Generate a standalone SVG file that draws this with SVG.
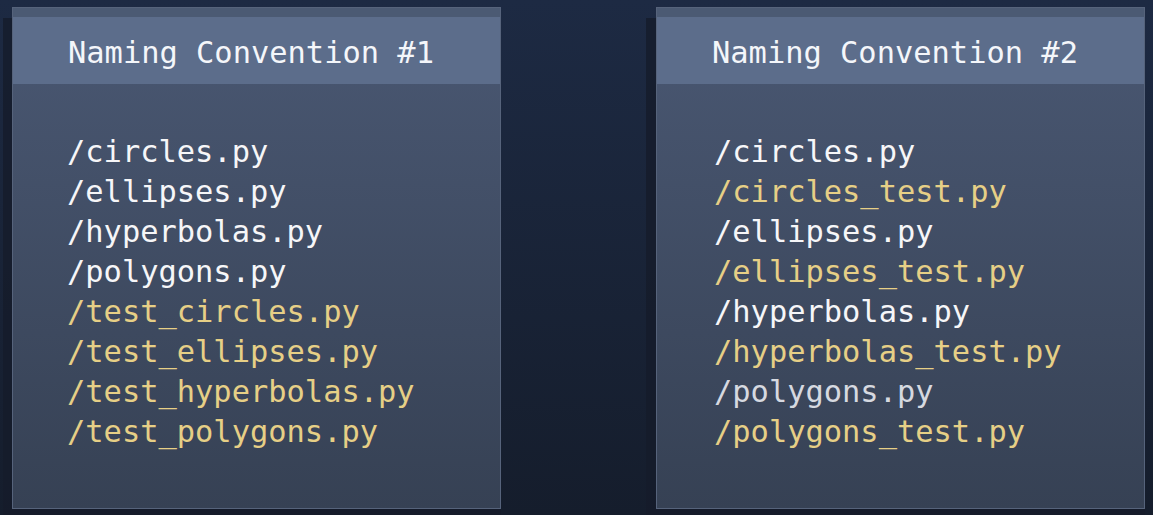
<svg xmlns="http://www.w3.org/2000/svg" width="1153" height="515" viewBox="0 0 1153 515">
<defs>
<linearGradient id="bg" x1="0" y1="0" x2="0" y2="1">
<stop offset="0" stop-color="#1d2a43"/>
<stop offset="1" stop-color="#151d2c"/>
</linearGradient>
<linearGradient id="body" x1="0" y1="0" x2="0" y2="1">
<stop offset="0" stop-color="#4a5873"/>
<stop offset="1" stop-color="#364154"/>
</linearGradient>
<style>
.shadow{fill:#151c2b;opacity:0.8}
.panel{fill:url(#body);stroke:#56637b;stroke-width:1}
.strip{fill:#4b5a73}
.head{fill:#5c6d8b}
text{font-family:"DejaVu Sans Mono","Liberation Mono",monospace;font-size:30.4px}
.h{fill:#f4f6fa}
.w{fill:#f6f6f8}
.g{fill:#d6d9e0}
.y{fill:#e6cf86}
</style>
</defs>
<rect width="1153" height="515" fill="url(#bg)"/>
<g id="panel1">
<rect class="shadow" x="3" y="18" width="498" height="497"/>
<rect class="panel" x="12.5" y="7.5" width="488" height="501"/>
<rect class="strip" x="13" y="8" width="487" height="9"/>
<rect class="head" x="13" y="17" width="487" height="67"/>
<text class="h" x="68" y="63">Naming Convention #1</text>
<text class="w" x="67" y="162">/circles.py</text>
<text class="w" x="67" y="202">/ellipses.py</text>
<text class="w" x="67" y="242">/hyperbolas.py</text>
<text class="w" x="67" y="282">/polygons.py</text>
<text class="y" x="67" y="322">/test_circles.py</text>
<text class="y" x="67" y="362">/test_ellipses.py</text>
<text class="y" x="67" y="402">/test_hyperbolas.py</text>
<text class="y" x="67" y="442">/test_polygons.py</text>
</g>
<g id="panel2">
<rect class="shadow" x="646" y="18" width="499" height="497"/>
<rect class="panel" x="656.5" y="7.5" width="488" height="501"/>
<rect class="strip" x="657" y="8" width="487" height="9"/>
<rect class="head" x="657" y="17" width="487" height="67"/>
<text class="h" x="712" y="63">Naming Convention #2</text>
<text class="w" x="714" y="162">/circles.py</text>
<text class="y" x="714" y="202">/circles_test.py</text>
<text class="w" x="714" y="242">/ellipses.py</text>
<text class="y" x="714" y="282">/ellipses_test.py</text>
<text class="w" x="714" y="322">/hyperbolas.py</text>
<text class="y" x="714" y="362">/hyperbolas_test.py</text>
<text class="g" x="714" y="402">/polygons.py</text>
<text class="y" x="714" y="442">/polygons_test.py</text>
</g>
<g id="connectors"/>
</svg>
